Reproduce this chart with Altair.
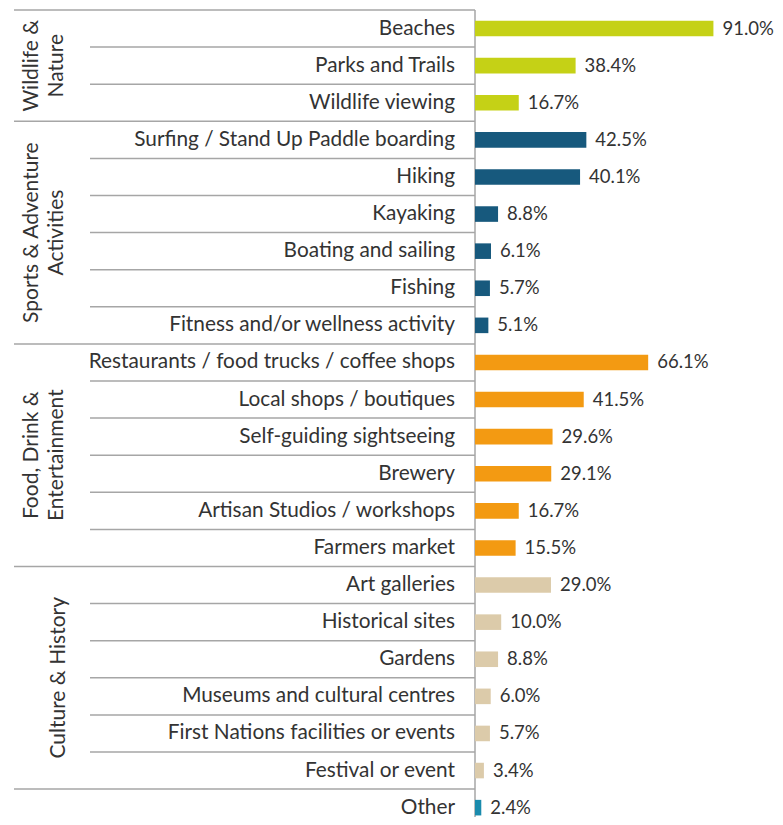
import altair as alt
import pandas as pd

categories = [
    "Beaches", "Parks and Trails", "Wildlife viewing",
    "Surfing / Stand Up Paddle boarding", "Hiking", "Kayaking",
    "Boating and sailing", "Fishing", "Fitness and/or wellness activity",
    "Restaurants / food trucks / coffee shops", "Local shops / boutiques",
    "Self-guiding sightseeing", "Brewery", "Artisan Studios / workshops",
    "Farmers market",
    "Art galleries", "Historical sites", "Gardens",
    "Museums and cultural centres", "First Nations facilities or events",
    "Festival or event",
    "Other",
]
values = [
    91.0, 38.4, 16.7,
    42.5, 40.1, 8.8, 6.1, 5.7, 5.1,
    66.1, 41.5, 29.6, 29.1, 16.7, 15.5,
    29.0, 10.0, 8.8, 6.0, 5.7, 3.4,
    2.4,
]
group_names = ["Wildlife & Nature", "Sports & Adventure Activities",
               "Food, Drink & Entertainment", "Culture & History", "Other"]
group_titles = ["Wildlife &\nNature", "Sports & Adventure\nActivities",
                "Food, Drink &\nEntertainment", "Culture & History", ""]
group_sizes = [3, 6, 6, 6, 1]
group_colors = ["#c5d116", "#17597d", "#f39a12", "#dccbaa", "#1a8bad"]

groups = []
for g, n in zip(group_names, group_sizes):
    groups += [g] * n

bars = pd.DataFrame({
    "cat": categories,
    "value": values,
    "group": groups,
    "idx": list(range(len(categories))),
})

full_lines, short_lines, glabels = [], [], []
start = 0
for g, t, n in zip(group_names, group_titles, group_sizes):
    full_lines.append(start)
    for k in range(1, n):
        short_lines.append(start + k)
    if t:
        glabels.append({"title": t, "mid": start + n / 2.0,
                        "two": 1 if "\n" in t else 0})
    start += n

full_df = pd.DataFrame({"b": full_lines})
short_df = pd.DataFrame({"b": short_lines})
gl_df = pd.DataFrame(glabels)

ROWPX = 37.1
HEIGHT = 807
YMAX = HEIGHT / ROWPX
WIDTH = 262
yscale = alt.Scale(domain=[0, YMAX], reverse=True, nice=False, zero=False)
xscale = alt.Scale(domain=[0, 100], nice=False)
FONT = "Lato"
TXT = "#333333"
LINE = "#a6a6a6"

base = alt.Chart(bars)

bar_layer = base.transform_calculate(
    y0="datum.idx + 0.29", y1="datum.idx + 0.71", x0="0"
).mark_rect().encode(
    x=alt.X("x0:Q", scale=xscale, axis=None),
    x2="value:Q",
    y=alt.Y("y0:Q", scale=yscale, axis=None),
    y2="y1:Q",
    color=alt.Color("group:N", scale=alt.Scale(domain=group_names, range=group_colors), legend=None),
)

val_layer = base.transform_calculate(
    yc="datum.idx + 0.5", lab="format(datum.value, '.1f') + '%'"
).mark_text(align="left", baseline="middle", dx=9, font=FONT, fontSize=18.5, color=TXT).encode(
    x=alt.X("value:Q", scale=xscale, axis=None),
    y=alt.Y("yc:Q", scale=yscale, axis=None),
    text="lab:N",
)

cat_layer = base.transform_calculate(
    yc="datum.idx + 0.5"
).mark_text(align="right", baseline="middle", font=FONT, fontSize=20.8, color=TXT).encode(
    x=alt.value(-20),
    y=alt.Y("yc:Q", scale=yscale, axis=None),
    text="cat:N",
)

full_rules = alt.Chart(full_df).mark_rule(color=LINE, strokeWidth=1.5).encode(
    x=alt.value(-461), x2=alt.value(0),
    y=alt.Y("b:Q", scale=yscale, axis=None),
)
short_rules = alt.Chart(short_df).mark_rule(color=LINE, strokeWidth=1.5).encode(
    x=alt.value(-385), x2=alt.value(0),
    y=alt.Y("b:Q", scale=yscale, axis=None),
)
axis_rule = alt.Chart(pd.DataFrame({"a": [0], "b": [YMAX]})).mark_rule(color=LINE, strokeWidth=1.5).encode(
    x=alt.value(0),
    y=alt.Y("a:Q", scale=yscale, axis=None),
    y2="b:Q",
)

glabel_two = alt.Chart(gl_df).transform_filter("datum.two == 1").mark_text(
    angle=270, align="center", baseline="middle", lineBreak="\n",
    font=FONT, fontSize=21, color=TXT, lineHeight=25,
).encode(
    x=alt.value(-443),
    y=alt.Y("mid:Q", scale=yscale, axis=None),
    text="title:N",
)
glabel_one = alt.Chart(gl_df).transform_filter("datum.two == 0").mark_text(
    angle=270, align="center", baseline="middle",
    font=FONT, fontSize=21, color=TXT,
).encode(
    x=alt.value(-416),
    y=alt.Y("mid:Q", scale=yscale, axis=None),
    text="title:N",
)

chart = alt.layer(
    full_rules, short_rules, axis_rule, bar_layer, val_layer, cat_layer, glabel_two, glabel_one
).properties(
    width=WIDTH, height=HEIGHT,
    autosize=alt.AutoSizeParams(type="none"),
    padding={"left": 467, "top": 2, "right": 767 - 467 - WIDTH, "bottom": 0},
).configure_view(stroke=None)

chart.save("out.html", embed_options={"renderer": "svg", "actions": False})
